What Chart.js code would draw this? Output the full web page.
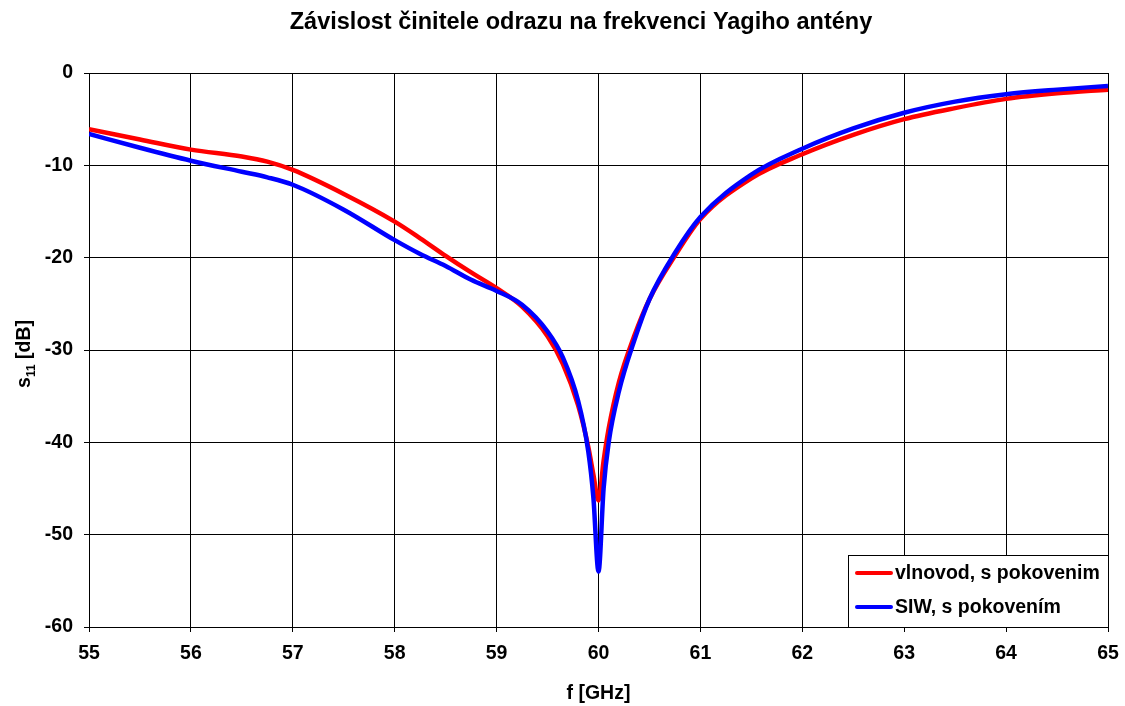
<!DOCTYPE html>
<html>
<head>
<meta charset="utf-8">
<script src="https://cdn.jsdelivr.net/npm/chart.js@4"></script>
<style>
  html, body { margin: 0; padding: 0; background: #fff; }
</style>
</head>
<body>
<canvas id="myChart" width="1125" height="706"></canvas>
<script>
// frekvence [GHz]
const freq = [55, 55.5, 56, 56.5, 56.75, 57, 57.5, 58, 58.25, 58.5, 58.75, 59, 59.25, 59.5, 59.65, 59.8, 59.9, 59.95, 60,
              60.05, 60.1, 60.2, 60.35, 60.5, 60.75, 61, 61.5, 62, 62.5, 63, 63.5, 64, 64.5, 65];
// vlnovod, s pokovenim
const s11Vlnovod = [-6.1, -7.2, -8.3, -9.05, -9.6, -10.5, -13.1, -16.1, -17.9, -19.8, -21.6, -23.3, -25.3, -28.5, -31.5, -36, -40.5, -43.5, -46.3,
                    -42, -38.5, -33.5, -28.5, -24.5, -19.8, -15.8, -11.4, -8.8, -6.7, -5.0, -3.8, -2.8, -2.2, -1.8];
// SIW, s pokovením
const s11Siw = [-6.6, -8.1, -9.5, -10.7, -11.3, -12.1, -14.8, -18.1, -19.6, -20.9, -22.4, -23.6, -25.1, -28.0, -30.8, -35.5, -41, -46, -54,
                -45, -40, -34.5, -29, -24.5, -19.5, -15.6, -11.0, -8.2, -6.0, -4.3, -3.1, -2.3, -1.8, -1.4];

const title = 'Závislost činitele odrazu na frekvenci Yagiho antény';

const FONT = 'Liberation Sans, Arial, sans-serif';
const FS = 19.5;

const toPoints = (ys) => freq.map((x, i) => ({ x: x, y: ys[i] }));

// nadpis, popisek osy y s dolním indexem + legenda v grafu
const extras = {
    id: 'extras',
    afterDraw(chart) {
        const ctx = chart.ctx;
        const area = chart.chartArea;

        // title
        ctx.save();
        ctx.fillStyle = '#000';
        ctx.font = 'bold 23.5px ' + FONT;
        ctx.textAlign = 'center';
        ctx.textBaseline = 'middle';
        ctx.fillText(title, 581, 23);
        ctx.restore();

        // y axis title: s_11 [dB]
        ctx.save();
        ctx.translate(30, 354);
        ctx.rotate(-Math.PI / 2);
        ctx.fillStyle = '#000';
        ctx.textBaseline = 'alphabetic';
        ctx.font = 'bold ' + FS + 'px ' + FONT;
        const w1 = ctx.measureText('s').width;
        ctx.font = 'bold 12px ' + FONT;
        const w2 = ctx.measureText('11').width;
        ctx.font = 'bold ' + FS + 'px ' + FONT;
        const w3 = ctx.measureText(' [dB]').width;
        let x = -(w1 + w2 + w3) / 2;
        ctx.fillText('s', x, 0);
        x += w1;
        ctx.font = 'bold 12px ' + FONT;
        ctx.fillText('11', x, 5);
        x += w2;
        ctx.font = 'bold ' + FS + 'px ' + FONT;
        ctx.fillText(' [dB]', x, 0);
        ctx.restore();

        // legend box
        const bx = 848, by = 555, bw = area.right - 848, bh = area.bottom - 555;
        ctx.save();
        ctx.fillStyle = '#fff';
        ctx.fillRect(bx, by, bw, bh);
        ctx.strokeStyle = '#000';
        ctx.lineWidth = 1;
        ctx.strokeRect(bx + 0.5, by + 0.5, bw, bh);
        const entries = [
            { label: chart.data.datasets[1].label, color: chart.data.datasets[1].borderColor, y: 573 },
            { label: chart.data.datasets[0].label, color: chart.data.datasets[0].borderColor, y: 607 }
        ];
        ctx.font = 'bold ' + FS + 'px ' + FONT;
        ctx.textBaseline = 'middle';
        entries.forEach(e => {
            ctx.strokeStyle = e.color;
            ctx.lineWidth = 4;
            ctx.lineCap = 'round';
            ctx.beginPath();
            ctx.moveTo(857, e.y);
            ctx.lineTo(891, e.y);
            ctx.stroke();
            ctx.fillStyle = '#000';
            ctx.fillText(e.label, 895, e.y + 1);
        });
        ctx.restore();
    }
};

const ctx = document.getElementById('myChart').getContext('2d');
new Chart(ctx, {
    type: 'line',
    data: {
        datasets: [{
            label: 'SIW, s pokovením',
            data: toPoints(s11Siw),
            borderColor: '#0000ff',
            borderWidth: 4.5,
            pointRadius: 0,
            cubicInterpolationMode: 'monotone',
            fill: false
        }, {
            label: 'vlnovod, s pokovenim',
            data: toPoints(s11Vlnovod),
            borderColor: '#ff0000',
            borderWidth: 4.5,
            pointRadius: 0,
            cubicInterpolationMode: 'monotone',
            fill: false
        }]
    },
    options: {
        responsive: false,
        animation: false,
        layout: {
            padding: { top: 73, right: 17, bottom: 0, left: 0 }
        },
        plugins: {
            legend: { display: false },
            tooltip: { enabled: false },
            title: { display: false }
        },
        scales: {
            x: {
                type: 'linear',
                min: 55,
                max: 65,
                ticks: {
                    stepSize: 1,
                    color: '#000',
                    padding: 10,
                    font: { family: FONT, size: FS, weight: 'bold' }
                },
                grid: { color: '#000', tickLength: 5 },
                border: { color: '#000' },
                title: {
                    display: true,
                    text: 'f [GHz]',
                    color: '#000',
                    font: { family: FONT, size: FS, weight: 'bold' },
                    padding: { top: 0, bottom: 1 }
                },
                afterFit(scale) {
                    scale.height = 79;
                    scale.paddingRight = 0;
                    scale.paddingLeft = 0;
                }
            },
            y: {
                min: -60,
                max: 0,
                ticks: {
                    stepSize: 10,
                    color: '#000',
                    padding: 11,
                    font: { family: FONT, size: FS, weight: 'bold' }
                },
                grid: { color: '#000', tickLength: 5 },
                border: { color: '#000' },
                afterFit(scale) {
                    scale.width = 89;
                    scale.paddingTop = 0;
                    scale.paddingBottom = 0;
                }
            }
        }
    },
    plugins: [extras]
});
</script>
</body>
</html>
